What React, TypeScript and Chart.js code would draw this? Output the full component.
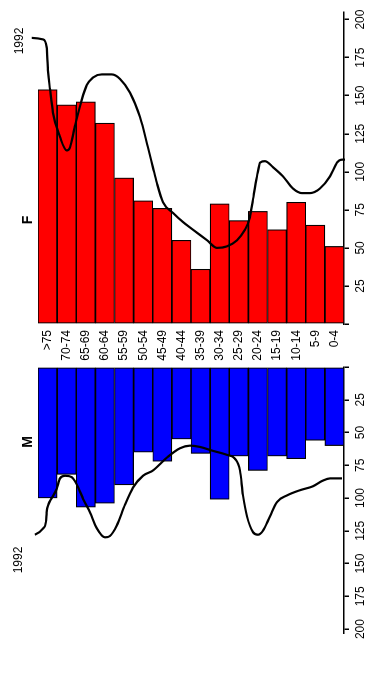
import { useEffect, useRef } from "react";
import { Chart, registerables } from "chart.js";

Chart.register(...registerables);

const ageGroups = [">75", "70-74", "65-69", "60-64", "55-59", "50-54", "45-49", "40-44", "35-39", "30-34", "25-29", "20-24", "15-19", "10-14", "5-9", "0-4"];
const femaleValues = [154, 144, 146, 132, 96, 81, 76, 55, 36, 79, 68, 74, 62, 80, 65, 51];
const maleValues = [100, 82, 107, 104, 90, 65, 72, 55, 66, 101, 68, 79, 68, 70, 56, 60];

// 1992 curves: [age-group position (0 = ">75" … 15 = "0-4"), value]
const female1992 = [
  [-0.83, 188], [-0.24, 187], [-0.05, 182], [0.02, 167], [0.13, 154], [0.28, 139], [0.65, 123], [1.0, 114],
  [1.17, 116], [1.43, 130], [1.78, 147], [2.05, 157], [2.38, 162], [2.83, 164], [3.35, 164], [3.79, 161],
  [4.31, 152], [4.83, 136], [5.25, 116], [5.51, 103], [5.71, 93], [6.04, 80], [6.56, 73], [7.08, 67],
  [7.6, 62], [8.34, 55], [8.86, 50], [9.38, 51], [9.91, 55], [10.32, 62], [10.58, 70], [10.74, 82],
  [10.95, 97], [11.11, 106], [11.37, 107], [11.79, 103], [12.31, 97], [12.83, 89], [13.3, 86], [13.72, 86],
  [14.24, 89], [14.77, 97], [15.13, 106], [15.4, 108], [15.55, 108],
];
const male1992 = [
  [-1.18, 129], [-0.66, 128], [-0.22, 123], [-0.08, 118], [-0.05, 111], [0.04, 105], [0.22, 100], [0.48, 93],
  [0.65, 85], [0.91, 83], [1.26, 84], [1.43, 87], [1.61, 92], [1.87, 101], [2.22, 111], [2.57, 123],
  [3.0, 130], [3.26, 129], [3.62, 121], [4.05, 105], [4.47, 92], [4.99, 83], [5.51, 79], [6.25, 69],
  [6.92, 62], [7.45, 60], [7.97, 61], [8.65, 64], [9.38, 67], [9.8, 70], [10.06, 79], [10.22, 98],
  [10.43, 114], [10.74, 126], [11.0, 128], [11.26, 125], [11.63, 114], [12.0, 103], [12.52, 98], [13.2, 94],
  [13.88, 91], [14.35, 87], [14.77, 85], [15.4, 85],
];

const tickStep = 25;
const FONT = "'Liberation Sans', Arial, sans-serif";

function textPlugin(items: { text: string; x: number; y: number; bold?: boolean; size: number }[]) {
  return {
    id: "extraText",
    afterDraw(chart: any) {
      const ctx = chart.ctx;
      ctx.save();
      ctx.fillStyle = "#000";
      ctx.textAlign = "center";
      ctx.textBaseline = "middle";
      items.forEach((it) => {
        ctx.font = `${it.bold ? "bold " : ""}${it.size}px ${FONT}`;
        ctx.fillText(it.text, it.x, it.y);
      });
      ctx.restore();
    },
  };
}

function buildConfig(
  values: number[],
  curve: number[][],
  color: string,
  isFemale: boolean,
  labels: { text: string; x: number; y: number; bold?: boolean; size: number }[]
): any {
  return {
    type: "bar",
    data: {
      labels: ageGroups,
      datasets: [
        {
          type: "line",
          data: curve.map(([p, v]) => ({ x: v, y: p })),
          xAxisID: "x",
          yAxisID: "yl",
          indexAxis: "y",
          borderColor: "#000",
          borderWidth: 2.2,
          pointRadius: 0,
          cubicInterpolationMode: "monotone",
          fill: false,
          clip: false,
          order: 0,
        },
        {
          type: "bar",
          data: values,
          xAxisID: "x",
          yAxisID: "y",
          backgroundColor: color,
          borderColor: "#000",
          borderWidth: 1.2,
          borderSkipped: false,
          grouped: false,
          categoryPercentage: 1,
          barPercentage: 1,
          order: 1,
        },
      ],
    },
    options: {
      indexAxis: "y",
      responsive: false,
      animation: false,
      layout: { padding: isFemale ? { top: 38, left: 0, right: 12, bottom: 0 } : { top: 38, left: 14, right: 0, bottom: 0 } },
      plugins: { legend: { display: false }, tooltip: { enabled: false }, title: { display: false } },
      scales: {
        x: {
          type: "linear",
          min: 0,
          max: isFemale ? 205 : 203,
          reverse: !isFemale,
          position: "bottom",
          ticks: {
            stepSize: tickStep,
            includeBounds: false,
            maxRotation: 0,
            autoSkip: false,
            padding: 4,
            color: "#000",
            font: { family: FONT, size: 12 },
            callback: (v: number) => (v === 0 ? "" : String(v)),
          },
          grid: { drawOnChartArea: false, drawTicks: true, tickLength: 5, color: "#000", lineWidth: 1.5 },
          border: { display: true, color: "#000", width: 1.5 },
          afterFit: (s: any) => {
            s.height = 33;
          },
        },
        y: {
          type: "category",
          display: isFemale,
          position: "left",
          offset: true,
          grid: { display: false, drawTicks: false },
          border: { display: false },
          ticks: { padding: 6, color: "#000", font: { family: FONT, size: 12 }, autoSkip: false },
          afterFit: (s: any) => {
            s.width = 39;
          },
        },
        yl: { type: "linear", min: -0.5, max: 15.5, reverse: true, offset: false, display: false, grid: { offset: false } },
      },
    },
    plugins: [textPlugin(labels)],
  };
}

export default function App() {
  const mRef = useRef<HTMLCanvasElement>(null);
  const fRef = useRef<HTMLCanvasElement>(null);

  useEffect(() => {
    const m = new Chart(
      mRef.current!,
      buildConfig(maleValues, male1992, "#0000ff", false, [
        { text: "M", x: 244, y: 28, bold: true, size: 14 },
        { text: "1992", x: 126, y: 19, size: 12 },
      ])
    );
    const f = new Chart(
      fRef.current!,
      buildConfig(femaleValues, female1992, "#ff0000", true, [
        { text: "F", x: 143, y: 28, bold: true, size: 14 },
        { text: "1992", x: 322, y: 20, size: 12 },
      ])
    );
    return () => {
      m.destroy();
      f.destroy();
    };
  }, []);

  return (
    <div
      style={{
        position: "fixed",
        top: 0,
        left: 0,
        width: 686,
        height: 377,
        background: "#fff",
        transformOrigin: "0 0",
        transform: "translateY(686px) rotate(-90deg)",
      }}
    >
      <canvas ref={mRef} width={323} height={377} style={{ position: "absolute", left: 0, top: 0 }} />
      <canvas ref={fRef} width={363} height={377} style={{ position: "absolute", left: 323, top: 0 }} />
    </div>
  );
}
